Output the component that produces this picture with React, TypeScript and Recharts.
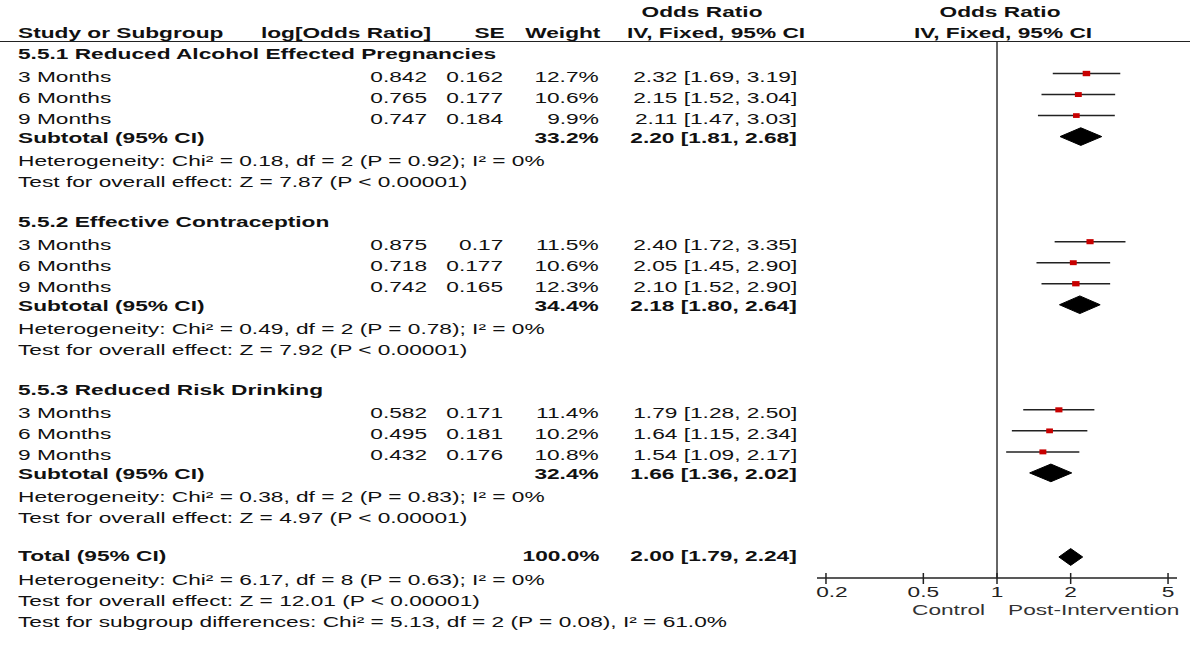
import React from "react";
import { ScatterChart, Scatter, XAxis, YAxis, ReferenceLine, ErrorBar } from "recharts";

const groupTitles = [
  "5.5.1 Reduced Alcohol Effected Pregnancies",
  "5.5.2 Effective Contraception",
  "5.5.3 Reduced Risk Drinking",
];
const timepoints = ["3 Months", "6 Months", "9 Months"];

// one entry per study row, three per subgroup
const studyLogOR = [0.842, 0.765, 0.747, 0.875, 0.718, 0.742, 0.582, 0.495, 0.432];
const studySE = [0.162, 0.177, 0.184, 0.17, 0.177, 0.165, 0.171, 0.181, 0.176];
const studyWeight = [12.7, 10.6, 9.9, 11.5, 10.6, 12.3, 11.4, 10.2, 10.8];
const studyOR = [2.32, 2.15, 2.11, 2.4, 2.05, 2.1, 1.79, 1.64, 1.54];
const studyLow = [1.69, 1.52, 1.47, 1.72, 1.45, 1.52, 1.28, 1.15, 1.09];
const studyHigh = [3.19, 3.04, 3.03, 3.35, 2.9, 2.9, 2.5, 2.34, 2.17];

const subWeight = [33.2, 34.4, 32.4];
const subOR = [2.2, 2.18, 1.66];
const subLow = [1.81, 1.8, 1.36];
const subHigh = [2.68, 2.64, 2.02];
const subHet = [
  "Heterogeneity: Chi² = 0.18, df = 2 (P = 0.92); I² = 0%",
  "Heterogeneity: Chi² = 0.49, df = 2 (P = 0.78); I² = 0%",
  "Heterogeneity: Chi² = 0.38, df = 2 (P = 0.83); I² = 0%",
];
const subTest = [
  "Test for overall effect: Z = 7.87 (P < 0.00001)",
  "Test for overall effect: Z = 7.92 (P < 0.00001)",
  "Test for overall effect: Z = 4.97 (P < 0.00001)",
];

const totalWeight = 100.0;
const totalOR = 2.0;
const totalLow = 1.79;
const totalHigh = 2.24;
const totalNotes = [
  "Heterogeneity: Chi² = 6.17, df = 8 (P = 0.63); I² = 0%",
  "Test for overall effect: Z = 12.01 (P < 0.00001)",
  "Test for subgroup differences: Chi² = 5.13, df = 2 (P = 0.08), I² = 61.0%",
];

const axisTicks = [0.2, 0.5, 1, 2, 5];
const sideLabels = ["Control", "Post-Intervention"];

// layout
const W = 1200;
const H = 651;
const TOP = 42;
const AXIS_Y = 578;
const ROW = (AXIS_Y - TOP) / 25.5;
const FS = 14;
const SX = 1.62; // text in the source is stretched sideways
const FONT = '"Liberation Sans", Arial, Helvetica, sans-serif';

const rowY = (r: number) => TOP + (r + 0.5) * ROW;
const studyRow = (i: number) => Math.floor(i / 3) * 8 + 1 + (i % 3);
const subRow = (g: number) => g * 8 + 4;
const TOTAL_ROW = 24;

const f2 = (v: number) => v.toFixed(2);
const ci = (o: number, l: number, h: number) => `${f2(o)} [${f2(l)}, ${f2(h)}]`;

const studyPoints = studyOR.map((v, i) => ({
  x: v,
  y: studyRow(i),
  w: studyWeight[i],
  err: [v - studyLow[i], studyHigh[i] - v],
}));

const diamond = (o: number, l: number, h: number, r: number, half: number) => [
  { x: l, y: r },
  { x: o, y: r - half },
  { x: h, y: r },
  { x: o, y: r + half },
  { x: l, y: r },
];
const diamonds = [
  ...subOR.map((o, g) => diamond(o, subLow[g], subHigh[g], subRow(g), 0.42)),
  diamond(totalOR, totalLow, totalHigh, TOTAL_ROW, 0.4),
];

const StudySquare = (props: any) => {
  const { cx, cy, payload } = props;
  const k = Math.sqrt(payload.w / 11);
  const w = 7 * k;
  const h = 5 * k;
  return <rect x={cx - w / 2} y={cy - h / 2} width={w} height={h} fill="#c80000" />;
};

const AxisTick = (props: any) => {
  const { x, y, payload, index } = props;
  const lx = index === 0 ? x + 6 : x;
  return (
    <g>
      <line x1={x} x2={x} y1={y - 5} y2={y + 6} stroke="#222" strokeWidth={1.5} />
      <text
        transform={`translate(${lx},${y + 14}) scale(${SX},1)`}
        textAnchor="middle"
        dominantBaseline="central"
        fontSize={FS}
        fontFamily={FONT}
        fill="#222"
      >
        {String(payload.value)}
      </text>
    </g>
  );
};

type Align = "left" | "right" | "center";

const Txt = ({
  x,
  y,
  text,
  align = "left",
  bold = false,
  color = "#111",
}: {
  x: number;
  y: number;
  text: string;
  align?: Align;
  bold?: boolean;
  color?: string;
}) => {
  const style: React.CSSProperties = {
    position: "absolute",
    top: y - 10,
    lineHeight: "20px",
    fontSize: FS,
    fontFamily: FONT,
    fontWeight: bold ? 700 : 400,
    whiteSpace: "nowrap",
    color,
  };
  if (align === "left") {
    style.left = x;
    style.transformOrigin = "left center";
    style.transform = `scaleX(${SX})`;
  } else if (align === "right") {
    style.right = W - x;
    style.transformOrigin = "right center";
    style.transform = `scaleX(${SX})`;
  } else {
    style.left = x;
    style.transformOrigin = "center center";
    style.transform = `translateX(-50%) scaleX(${SX})`;
  }
  return <span style={style}>{text}</span>;
};

const COL_LABEL = 18;
const COL_LOG = 427;
const COL_SE = 503;
const COL_WT = 599;
const COL_CI = 797;

export default function App() {
  const lines: React.ReactNode[] = [];
  const t = (key: string, props: any) => lines.push(<Txt key={key} {...props} />);

  // header
  t("h1", { x: COL_LABEL, y: 33, text: "Study or Subgroup", bold: true });
  t("h2", { x: COL_LOG + 4, y: 33, text: "log[Odds Ratio]", bold: true, align: "right" });
  t("h3", { x: COL_SE + 2, y: 33, text: "SE", bold: true, align: "right" });
  t("h4", { x: COL_WT + 1, y: 33, text: "Weight", bold: true, align: "right" });
  t("h5", { x: 702, y: 12, text: "Odds Ratio", bold: true, align: "center" });
  t("h6", { x: 716, y: 33, text: "IV, Fixed, 95% CI", bold: true, align: "center" });
  t("h7", { x: 1000, y: 12, text: "Odds Ratio", bold: true, align: "center" });
  t("h8", { x: 1003, y: 33, text: "IV, Fixed, 95% CI", bold: true, align: "center" });

  groupTitles.forEach((title, g) => {
    t(`g${g}`, { x: COL_LABEL, y: rowY(g * 8) + 1, text: title, bold: true });
    for (let j = 0; j < 3; j++) {
      const i = g * 3 + j;
      const y = rowY(studyRow(i)) + 3;
      t(`s${i}a`, { x: COL_LABEL, y, text: timepoints[j] });
      t(`s${i}b`, { x: COL_LOG, y, text: String(studyLogOR[i]), align: "right" });
      t(`s${i}c`, { x: COL_SE, y, text: String(studySE[i]), align: "right" });
      t(`s${i}d`, { x: COL_WT, y, text: `${studyWeight[i].toFixed(1)}%`, align: "right" });
      t(`s${i}e`, { x: COL_CI, y, text: ci(studyOR[i], studyLow[i], studyHigh[i]), align: "right" });
    }
    const ys = rowY(subRow(g)) + 1;
    t(`t${g}a`, { x: COL_LABEL, y: ys, text: "Subtotal (95% CI)", bold: true });
    t(`t${g}b`, { x: COL_WT, y: ys, text: `${subWeight[g].toFixed(1)}%`, bold: true, align: "right" });
    t(`t${g}c`, { x: COL_CI, y: ys, text: ci(subOR[g], subLow[g], subHigh[g]), bold: true, align: "right" });
    t(`t${g}d`, { x: COL_LABEL, y: rowY(subRow(g) + 1) + 3, text: subHet[g] });
    t(`t${g}e`, { x: COL_LABEL, y: rowY(subRow(g) + 2) + 3, text: subTest[g] });
  });

  const yt = rowY(TOTAL_ROW) - 1;
  t("ta", { x: COL_LABEL, y: yt, text: "Total (95% CI)", bold: true });
  t("tb", { x: COL_WT, y: yt, text: `${totalWeight.toFixed(1)}%`, bold: true, align: "right" });
  t("tc", { x: COL_CI, y: yt, text: ci(totalOR, totalLow, totalHigh), bold: true, align: "right" });
  totalNotes.forEach((n, k) => t(`n${k}`, { x: COL_LABEL, y: rowY(TOTAL_ROW + 1 + k) + 2, text: n }));

  t("c1", { x: 985, y: 610, text: sideLabels[0], align: "right", color: "#333" });
  t("c2", { x: 1008, y: 610, text: sideLabels[1], color: "#333" });

  return (
    <div
      style={{
        position: "absolute",
        left: 0,
        top: 0,
        width: W,
        height: H,
        background: "#fff",
        overflow: "hidden",
      }}
    >
      <div style={{ position: "absolute", left: 0, top: 0 }}>
        <ScatterChart
          width={W}
          height={H}
          margin={{ top: TOP, right: 23, bottom: H - AXIS_Y - 30, left: 817 }}
        >
          <XAxis
            type="number"
            dataKey="x"
            scale="log"
            domain={[0.1838, 5.44]}
            ticks={axisTicks}
            interval={0}
            allowDataOverflow
            height={30}
            tickSize={0}
            tickMargin={0}
            tickLine={false}
            axisLine={{ stroke: "#222", strokeWidth: 1.5 }}
            tick={AxisTick}
          />
          <YAxis type="number" dataKey="y" hide reversed domain={[-0.5, 25]} allowDataOverflow />
          <ReferenceLine x={1} stroke="#333" strokeWidth={1.5} />
          <Scatter data={studyPoints} shape={StudySquare} isAnimationActive={false}>
            <ErrorBar dataKey="err" direction="x" width={0} stroke="#222" strokeWidth={1.5} />
          </Scatter>
          {diamonds.map((d, k) => (
            <Scatter
              key={k}
              data={d}
              fill="#000"
              line={{ fill: "#000", stroke: "#000", strokeWidth: 1 }}
              shape={() => <g />}
              isAnimationActive={false}
            />
          ))}
        </ScatterChart>
      </div>
      <div
        style={{
          position: "absolute",
          left: 0,
          top: TOP - 1,
          width: 1190,
          height: 0,
          borderTop: "1.5px solid #222",
        }}
      />
      {lines}
    </div>
  );
}
